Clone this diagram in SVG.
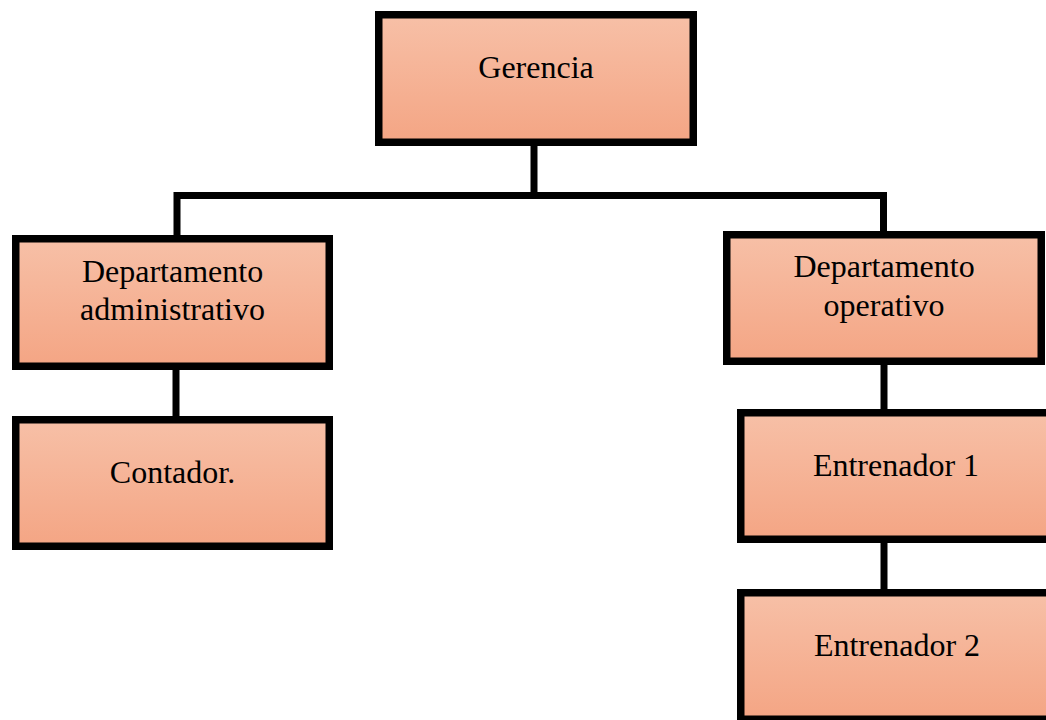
<svg xmlns="http://www.w3.org/2000/svg" width="1046" height="720" viewBox="0 0 1046 720">
<defs>
<linearGradient id="g" x1="0" y1="0" x2="0" y2="1">
<stop offset="0" stop-color="#F7C0A7"/>
<stop offset="1" stop-color="#F4A584"/>
</linearGradient>
<style>
.box{fill:url(#g);stroke:#000;stroke-width:7.5}
.lbl{font-family:"Liberation Serif","Times New Roman",serif;font-size:32px;fill:#000;text-anchor:middle}
.con{fill:none;stroke:#000;stroke-width:7}
</style>
</defs>
<rect width="1046" height="720" fill="#fff"/>
<g id="connectors">
<path class="con" d="M534,146 V196"/>
<path class="con" d="M177,235 V195.5 H883.5 V231"/>
<path class="con" d="M176,370 V416"/>
<path class="con" d="M884,365 V414"/>
<path class="con" d="M884,543 V589"/>
</g>
<g id="gerencia">
<rect class="box" x="378.75" y="14.75" width="314.5" height="127.5"/>
<text class="lbl" x="536" y="78">Gerencia</text>
</g>
<g id="dep-administrativo">
<rect class="box" x="15.75" y="238.75" width="313.5" height="127.5"/>
<text class="lbl" x="172.5" y="282">Departamento</text>
<text class="lbl" x="172.5" y="320">administrativo</text>
</g>
<g id="contador">
<rect class="box" x="15.75" y="419.75" width="313.5" height="126.5"/>
<text class="lbl" x="172.5" y="483">Contador.</text>
</g>
<g id="dep-operativo">
<rect class="box" x="726.75" y="234.75" width="314.5" height="126.5"/>
<text class="lbl" x="884" y="277">Departamento</text>
<text class="lbl" x="884" y="316">operativo</text>
</g>
<g id="entrenador1">
<rect class="box" x="740.75" y="412.75" width="314.5" height="126.5"/>
<text class="lbl" x="896" y="476">Entrenador 1</text>
</g>
<g id="entrenador2">
<rect class="box" x="740.75" y="592.75" width="314.5" height="126.5"/>
<text class="lbl" x="897" y="656">Entrenador 2</text>
</g>
</svg>
